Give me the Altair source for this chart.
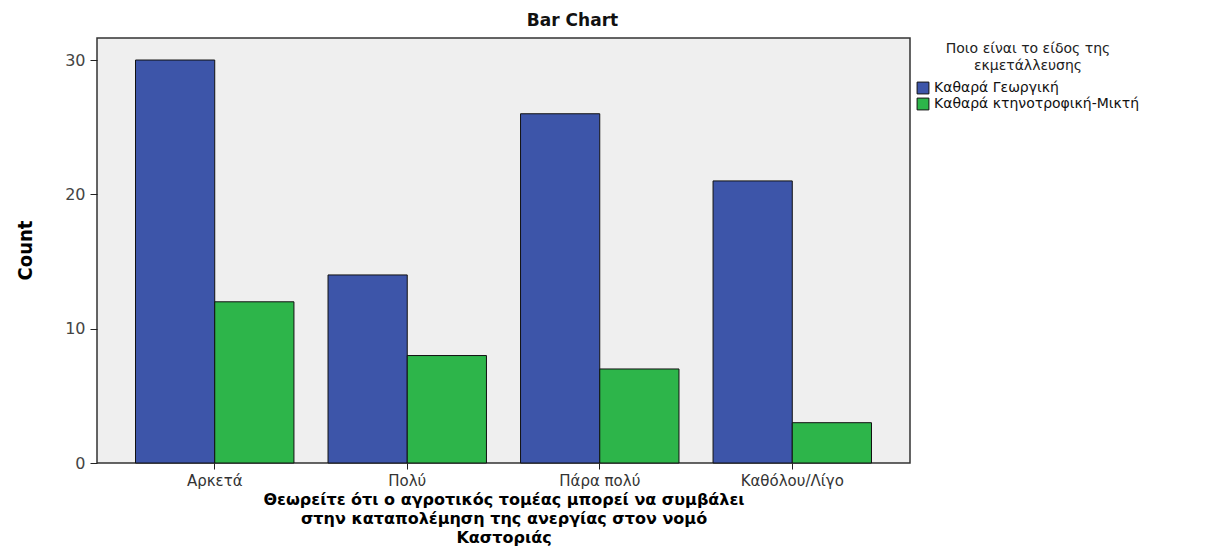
import altair as alt
import pandas as pd

categories = ["Αρκετά", "Πολύ", "Πάρα πολύ", "Καθόλου/Λίγο"]
series = ["Καθαρά Γεωργική", "Καθαρά κτηνοτροφική-Μικτή"]
georgiki = [30, 14, 26, 21]
ktinotrofiki = [12, 8, 7, 3]
colors = ["#3d55a9", "#2db54a"]
y_ticks = [0, 10, 20, 30]

rows = []
for c, g, k in zip(categories, georgiki, ktinotrofiki):
    rows.append({"cat": c, "series": series[0], "count": g})
    rows.append({"cat": c, "series": series[1], "count": k})
df = pd.DataFrame(rows)

FONT = "DejaVu Sans"

chart = alt.Chart(df).mark_bar(stroke="#111111", strokeWidth=1).encode(
    x=alt.X(
        "cat:N",
        sort=categories,
        scale=alt.Scale(paddingInner=0.177, paddingOuter=0.2),
        axis=alt.Axis(
            title=[
                "Θεωρείτε ότι ο αγροτικός τομέας μπορεί να συμβάλει",
                "στην καταπολέμηση της ανεργίας στον νομό",
                "Καστοριάς",
            ],
            titleFont=FONT,
            titleFontSize=16,
            titleFontWeight="bold",
            titleColor="#000000",
            titleLineHeight=19,
            titlePadding=3,
            labelAngle=0,
            labelFont=FONT,
            labelFontSize=15,
            labelColor="#333333",
            labelPadding=4,
            tickSize=6,
            tickColor="#222222",
            domain=False,
        ),
    ),
    xOffset=alt.XOffset("series:N", sort=series, scale=alt.Scale(paddingInner=0, paddingOuter=0)),
    y=alt.Y(
        "count:Q",
        scale=alt.Scale(domain=[0, 31.64], nice=False),
        axis=alt.Axis(
            values=y_ticks,
            title="Count",
            titleFont="DejaVu Sans Condensed, Liberation Sans Narrow, Liberation Sans",
            titleFontSize=20,
            titleFontWeight="bold",
            titleColor="#000000",
            titleAngle=270,
            titleAlign="center",
            titleBaseline="middle",
            titleX=-72,
            titleY=212,
            labelFont=FONT,
            labelFontSize=16,
            labelColor="#444444",
            labelPadding=5,
            tickSize=7,
            tickColor="#222222",
            domain=False,
            grid=False,
        ),
    ),
    color=alt.Color(
        "series:N",
        sort=series,
        scale=alt.Scale(domain=series, range=colors),
        legend=alt.Legend(
            title=["Ποιο είναι το είδος της", "εκμετάλλευσης"],
            titleFont=FONT,
            titleFontSize=14,
            titleFontWeight="normal",
            titleColor="#222222",
            titleAnchor="middle",
            titleAlign="center",
            titleLineHeight=17,
            titlePadding=8,
            labelFont=FONT,
            labelFontSize=14,
            labelColor="#111111",
            labelLimit=0,
            labelOffset=4,
            symbolType="square",
            symbolSize=140,
            symbolStrokeColor="#111111",
            symbolStrokeWidth=1,
            rowPadding=0,
            offset=2,
            padding=4,
            orient="right",
        ),
    ),
).properties(
    width=813,
    height=425,
    title=alt.TitleParams(
        "Bar Chart",
        font=FONT,
        fontSize=17,
        fontWeight="bold",
        color="#111111",
        anchor="middle",
        dx=69,
        offset=8,
    ),
    autosize=alt.AutoSizeParams(type="none"),
    padding={"left": 89, "top": 30, "right": 300, "bottom": 85},
).configure_view(
    fill="#efefef", stroke="#333333", strokeWidth=1.5
)

chart.save("out.html", embed_options={"renderer": "svg", "actions": False})
